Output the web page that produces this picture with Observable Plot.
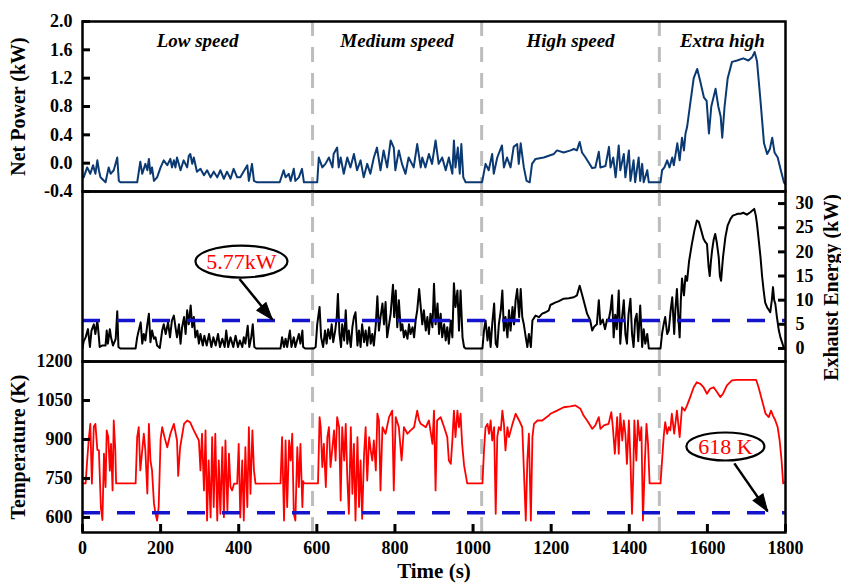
<!DOCTYPE html>
<html><head><meta charset="utf-8">
<script src="https://cdn.jsdelivr.net/npm/d3@7"></script>
<script src="https://cdn.jsdelivr.net/npm/@observablehq/plot@0.6"></script>
<style>
body{margin:0;background:#fff}
#chart{position:relative;width:841px;height:586px;background:#fff}
#chart svg{position:absolute;left:0;overflow:visible;background:transparent}
</style>
</head><body><div id="chart"></div>
<script>
// ---------- data ----------
const phaseNames = ["Low speed", "Medium speed", "High speed", "Extra high"];
const phaseStarts = [0, 589, 1022, 1477];
const phaseEnds = [589, 1022, 1477, 1800];
const phaseBounds = [589, 1022, 1477];
const xTicks = [0, 200, 400, 600, 800, 1000, 1200, 1400, 1600, 1800];
const powerTicks = [-0.4, 0, 0.4, 0.8, 1.2, 1.6, 2.0];
const exhaustTicks = [0, 5, 10, 15, 20, 25, 30];
const tempTicks = [600, 750, 900, 1050, 1200];
const exhaustMean = 5.77;
const tempMin = 618;

const exhaustNote = {label: "5.77kW", x: 407, y: 18, x1: 402, y1: 14.4, x2: 486, y2: 6.0};
const tempNote = {label: "618 K", x: 1646, y: 873, x1: 1669, y1: 808, x2: 1754, y2: 624};

const netPower = [
[0,-0.2],[3,-0.2],[12,-0.06],[20,-0.15],[27,-0.03],[33,-0.15],[38,0.04],[42,-0.1],[46,-0.2],[59,-0.27],[67,-0.06],[72,-0.15],[80,-0.1],[89,0.08],[93,-0.25],[97,-0.27],[140,-0.27],[148,0.02],[153,-0.15],[161,-0.01],[166,-0.1],[170,0.06],[174,-0.15],[178,-0.06],[183,-0.25],[191,-0.2],[200,-0.06],[208,0.04],[217,-0.03],[225,0.06],[229,-0.06],[234,0.04],[238,-0.06],[242,0.08],[251,-0.1],[259,0.04],[268,-0.06],[272,0.1],[276,0.13],[281,-0.01],[285,0.08],[293,-0.12],[302,-0.08],[311,-0.17],[319,-0.1],[328,-0.2],[336,-0.12],[345,-0.2],[353,-0.1],[362,-0.22],[370,-0.12],[379,-0.22],[387,-0.08],[396,-0.2],[404,-0.2],[422,-0.03],[426,-0.25],[434,-0.01],[439,-0.25],[447,-0.27],[505,-0.27],[515,-0.1],[520,-0.2],[528,-0.15],[533,-0.25],[541,-0.08],[545,-0.25],[554,-0.2],[562,-0.08],[567,-0.27],[601,-0.27],
[605,0.08],[614,-0.06],[622,-0.01],[631,0.08],[640,-0.06],[643,0.13],[652,0.22],[656,-0.06],[661,0.08],[669,-0.15],[678,0.08],[686,-0.06],[695,0.13],[703,-0.1],[712,0.04],[720,-0.2],[729,-0.01],[737,-0.15],[746,0.08],[754,0.22],[763,-0.1],[771,0.18],[780,-0.06],[789,0.32],[797,0.22],[801,-0.1],[810,0.18],[818,-0.01],[827,-0.15],[835,0.08],[848,-0.06],[857,0.27],[866,-0.06],[870,0.08],[878,-0.06],[887,0.13],[895,-0.01],[904,0.32],[912,-0.01],[921,0.08],[930,-0.1],[938,0.08],[947,-0.15],[951,0.32],[955,-0.06],[961,0.22],[966,-0.15],[970,0.27],[975,-0.2],[981,-0.27],[1023,-0.27],
[1032,-0.01],[1040,-0.1],[1049,0.13],[1053,-0.15],[1062,0.08],[1074,0.25],[1079,-0.06],[1087,0.08],[1096,-0.06],[1104,0.23],[1113,0.27],[1117,-0.01],[1122,0.28],[1130,-0.06],[1137,-0.25],[1145,-0.27],[1151,-0.01],[1160,0.06],[1181,0.08],[1207,0.13],[1215,0.18],[1232,0.15],[1250,0.18],[1258,0.2],[1266,0.18],[1273,0.3],[1279,0.15],[1288,0.08],[1296,0.01],[1305,-0.07],[1313,-0.06],[1322,0.16],[1326,-0.06],[1339,-0.04],[1348,0.23],[1352,-0.06],[1359,0.08],[1365,-0.2],[1373,0.25],[1377,-0.1],[1386,0.13],[1390,-0.2],[1399,0.18],[1403,-0.25],[1411,0.04],[1415,-0.27],[1424,0.08],[1428,-0.25],[1433,-0.01],[1437,-0.27],[1446,-0.1],[1450,-0.27],[1480,-0.27],
[1484,-0.1],[1490,-0.06],[1497,0.04],[1503,-0.06],[1510,0.08],[1514,-0.03],[1523,0.28],[1529,0.04],[1535,0.36],[1540,0.18],[1544,0.42],[1548,0.51],[1557,0.88],[1565,1.2],[1574,1.33],[1582,1.15],[1591,0.93],[1598,0.88],[1604,0.42],[1610,0.8],[1621,1.05],[1628,0.8],[1634,0.66],[1638,0.36],[1644,0.8],[1652,1.2],[1663,1.43],[1676,1.45],[1692,1.48],[1705,1.45],[1715,1.5],[1721,1.57],[1727,1.44],[1736,0.88],[1745,0.28],[1753,0.13],[1760,0.2],[1766,0.36],[1772,0.15],[1780,0.08],[1788,-0.1],[1796,-0.27],[1800,-0.3]
];

const exhaustEnergy = [
[0,0],[3,1.5],[8,2.3],[14,4.0],[19,0.3],[23,3.7],[29,5.0],[33,3.0],[38,5.8],[42,2.3],[44,0.3],[50,0.6],[59,0.6],[62,3.7],[65,1.0],[70,4.0],[73,2.3],[78,0.6],[85,2.0],[89,7.7],[92,0.3],[97,0],[136,0],[140,2.3],[144,3.7],[149,5.4],[153,1.0],[157,3.0],[161,1.65],[166,5.0],[170,7.2],[174,1.3],[178,3.7],[183,2.0],[187,2.3],[191,0.6],[198,0.1],[204,3.7],[208,5.0],[213,3.0],[219,5.4],[224,2.3],[229,5.8],[234,6.8],[238,4.4],[242,2.3],[247,5.0],[251,1.0],[255,4.4],[260,6.5],[264,3.0],[268,7.9],[272,5.0],[277,8.9],[281,4.4],[285,6.5],[289,2.3],[294,3.7],[298,1.0],[302,3.0],[308,0.6],[312,2.65],[318,0.6],[324,3.0],[330,0.3],[335,2.3],[341,0.6],[347,3.0],[352,0.3],[358,2.0],[364,0.3],[368,3.7],[373,0.3],[379,2.3],[386,0.3],[392,2.65],[398,0.3],[403,1.65],[409,0.3],[413,2.3],[417,1.0],[423,4.7],[427,0.3],[432,2.3],[436,5.0],[440,0.3],[445,0],[507,0],[511,2.3],[516,0.3],[520,2.0],[524,0.3],[531,3.7],[535,0.3],[541,2.3],[545,0.3],[554,3.0],[558,1.0],[563,3.7],[565,0.3],[570,0],[592,0],
[597,0.3],[601,5.0],[607,8.6],[611,2.3],[616,0.3],[621,3.7],[625,1.0],[629,4.0],[634,2.0],[638,5.0],[642,1.3],[647,3.7],[651,6.5],[654,11.3],[658,3.0],[662,0.3],[665,5.0],[670,1.65],[674,7.9],[678,1.0],[682,3.7],[687,0.3],[691,4.4],[695,6.5],[699,7.5],[704,0.6],[708,3.7],[712,0.3],[716,5.0],[721,1.3],[725,3.7],[729,0.6],[734,4.4],[738,1.0],[742,3.0],[746,0.6],[751,5.0],[755,10.8],[759,3.7],[763,6.5],[768,9.3],[772,5.0],[776,9.6],[780,2.3],[785,5.0],[789,7.2],[795,13.2],[798,6.5],[802,12.0],[806,4.4],[810,10.0],[815,3.7],[819,5.0],[823,2.3],[827,3.7],[832,2.0],[836,5.0],[840,3.0],[845,4.4],[849,2.3],[853,5.8],[857,7.9],[862,12.3],[866,8.6],[870,5.0],[874,7.9],[879,3.7],[883,6.5],[887,3.0],[891,7.2],[896,4.4],[900,13.4],[904,5.0],[909,9.3],[913,3.0],[917,7.2],[921,2.3],[926,5.0],[930,1.65],[934,4.4],[938,1.0],[943,5.8],[947,2.3],[951,13.5],[955,8.6],[960,12.0],[964,3.7],[968,12.0],[973,2.3],[977,0.3],[981,0],[1024,0],
[1028,3.7],[1032,5.8],[1037,1.65],[1041,4.4],[1045,0.3],[1049,5.0],[1054,9.3],[1058,1.0],[1062,0.3],[1066,5.0],[1071,7.9],[1075,12.0],[1079,3.7],[1083,6.5],[1088,2.3],[1092,7.9],[1096,3.7],[1101,8.6],[1105,5.0],[1109,10.0],[1113,12.3],[1118,6.5],[1122,12.3],[1126,6.5],[1130,5.0],[1135,2.3],[1139,0.3],[1143,3.0],[1148,0.3],[1152,5.8],[1160,6.8],[1169,6.5],[1177,7.2],[1186,7.5],[1194,7.9],
[1198,9.0],[1210,9.5],[1220,9.8],[1232,10.3],[1245,10.4],[1258,10.6],[1266,11],[1273,13],[1278,11.5],[1283,10],[1292,7.2],[1300,5.8],[1305,3.7],[1310,4.5],[1317,5.0],[1322,10],[1326,5],[1332,6],[1338,4],[1343,6],[1347,5.8],[1352,8],[1356,11],[1360,2.3],[1364,7],[1368,4],[1373,12],[1377,1],[1381,6],[1386,10],[1390,3],[1394,1],[1398,7],[1403,10.3],[1407,3],[1411,0.3],[1415,6],[1419,7.2],[1423,1.5],[1428,8.9],[1433,0.3],[1437,4],[1441,1],[1446,3],[1450,0],[1480,0],
[1484,3.1],[1488,5],[1492,6.5],[1497,3],[1501,3.7],[1506,8],[1510,10.6],[1515,3],[1518,8],[1522,12.3],[1526,6],[1529,2.3],[1532,10],[1535,14.5],[1540,11],[1544,15],[1548,14],[1553,18],[1560,21.5],[1567,24.5],[1573,26.5],[1578,26.2],[1584,24.5],[1590,22.7],[1595,22],[1599,21.6],[1603,17],[1606,15],[1609,18],[1612,20.3],[1616,22.5],[1620,23.7],[1624,22],[1629,18.9],[1632,15],[1635,14],[1638,17],[1640,18.9],[1646,23],[1652,25.5],[1659,26.8],[1665,27.5],[1672,27.7],[1678,27.9],[1685,27.9],[1692,28.1],[1701,27.7],[1710,28.2],[1716,28.6],[1720,28.9],[1724,27.5],[1727,25.8],[1732,22],[1736,18.9],[1740,15],[1744,12],[1748,9.5],[1753,8.5],[1757,8],[1761,7.5],[1765,10],[1768,12.7],[1771,10],[1774,9.2],[1778,6.5],[1783,3.7],[1787,2.3],[1791,1.3],[1795,0.3],[1800,0]
];

const temperature = [
[0,731],[8,731],[12,820],[16,900],[20,960],[24,730],[29,950],[33,960],[38,860],[42,858],[47,640],[51,590],[55,845],[59,717],[62,935],[66,909],[70,780],[73,883],[77,704],[80,973],[84,858],[86,731],[136,731],[140,909],[144,947],[148,781],[157,922],[161,858],[166,692],[170,960],[174,819],[178,781],[183,653],[187,614],[191,588],[195,640],[200,900],[204,947],[210,909],[217,870],[225,922],[234,960],[242,896],[245,760],[250,870],[260,960],[268,973],[276,965],[285,935],[298,896],[302,781],[306,922],[311,704],[315,935],[319,588],[323,819],[328,600],[332,909],[336,640],[340,922],[345,588],[349,819],[353,614],[358,870],[362,601],[366,896],[371,627],[375,845],[379,717],[383,704],[388,730],[396,730],[400,883],[404,600],[409,819],[413,588],[417,870],[422,640],[426,947],[430,691],[435,935],[439,781],[443,730],[507,731],[511,909],[516,588],[520,896],[524,640],[529,896],[533,819],[537,922],[541,614],[545,588],[550,870],[554,717],[558,883],[563,640],[565,740],[567,731],[592,731],
[597,731],[603,731],[607,986],[610,947],[614,794],[618,883],[623,717],[627,909],[631,947],[635,794],[640,870],[644,935],[648,819],[652,986],[657,947],[661,665],[665,947],[670,819],[674,960],[678,755],[682,614],[687,947],[691,691],[695,883],[699,588],[704,909],[708,640],[712,819],[716,595],[721,845],[725,947],[729,742],[734,909],[738,858],[742,819],[746,896],[751,781],[755,999],[759,973],[763,704],[768,947],[776,922],[785,986],[793,1011],[797,704],[802,986],[810,947],[817,819],[823,947],[832,922],[840,935],[849,947],[857,1011],[862,973],[866,960],[879,947],[887,973],[896,883],[900,1011],[904,704],[908,973],[917,986],[926,947],[934,909],[938,819],[943,806],[947,896],[951,1011],[955,909],[960,1011],[964,947],[968,999],[972,883],[977,800],[985,731],[1024,731],
[1028,858],[1032,947],[1037,960],[1041,922],[1045,973],[1049,896],[1054,947],[1058,614],[1062,909],[1066,947],[1071,935],[1075,1011],[1079,960],[1083,858],[1088,947],[1092,909],[1101,960],[1109,999],[1118,973],[1126,947],[1135,588],[1139,819],[1143,922],[1148,588],[1152,909],[1156,960],[1165,973],[1177,973],[1194,992],
[1198,999],[1215,1011],[1232,1024],[1249,1027],[1262,1031],[1275,1018],[1283,992],[1292,973],[1300,954],[1305,941],[1313,954],[1322,986],[1326,941],[1335,954],[1347,960],[1354,1005],[1358,947],[1363,845],[1369,986],[1373,845],[1377,999],[1382,896],[1386,973],[1390,922],[1394,806],[1399,973],[1403,819],[1407,614],[1410,755],[1413,973],[1418,819],[1422,973],[1427,896],[1431,947],[1435,588],[1440,819],[1444,960],[1448,883],[1452,731],[1480,731],
[1484,819],[1488,909],[1492,967],[1497,922],[1501,947],[1505,935],[1509,999],[1515,922],[1522,1011],[1529,909],[1535,1024],[1542,1011],[1548,1031],[1556,1063],[1565,1101],[1573,1120],[1582,1114],[1590,1101],[1599,1076],[1607,1095],[1616,1101],[1625,1082],[1633,1063],[1640,1076],[1650,1108],[1663,1127],[1676,1129],[1710,1129],[1725,1129],[1731,1101],[1740,1050],[1749,999],[1757,986],[1763,1011],[1768,992],[1774,973],[1780,947],[1785,896],[1790,819],[1794,731],[1797,735]
];

// ---------- style ----------
const FONT = "'Liberation Serif', 'Times New Roman', serif";
const W = 841, ML = 82, MR = 56;
const NAVY = "#0b3a73", RED = "#ff0000", BLUE = "#1414cc", GRAY = "#bdbdbd";
const baseStyle = {fontFamily: FONT, fontWeight: "bold", fontSize: "18px", overflow: "visible", background: "transparent", color: "black"};

function ellipseSymbol(rx, ry) {
  const k = 0.5523;
  return {draw(ctx) {
    ctx.moveTo(rx, 0);
    ctx.bezierCurveTo(rx, ry * k, rx * k, ry, 0, ry);
    ctx.bezierCurveTo(-rx * k, ry, -rx, ry * k, -rx, 0);
    ctx.bezierCurveTo(-rx, -ry * k, -rx * k, -ry, 0, -ry);
    ctx.bezierCurveTo(rx * k, -ry, rx, -ry * k, rx, 0);
    ctx.closePath();
  }};
}
// solid arrow head: tip at the origin, pointing up (rotated by the dot's rotate option)
const headSymbol = {draw(ctx) { ctx.moveTo(0, 0); ctx.lineTo(-6, 17); ctx.lineTo(6, 17); ctx.closePath(); }};

const yAxis = (ticks, anchor, fmt) => Plot.axisY(ticks, {anchor, tickSize: -8, tickPadding: 18, strokeWidth: 3, tickFormat: fmt, label: null, fontSize: 18, fontWeight: "bold", fontFamily: FONT});
const phaseRule = () => Plot.ruleX(phaseBounds, {stroke: GRAY, strokeWidth: 3, strokeDasharray: "15,11"});
const frame = () => Plot.frame({stroke: "black", strokeWidth: 2.5});
const title = (t, opts) => Plot.text([t], {textAnchor: "middle", fontSize: 20, fontWeight: "bold", fontFamily: FONT, ...opts});
const note = (n, rx, ry, headRotate) => [
  Plot.link([n], {x1: "x1", y1: "y1", x2: "x2", y2: "y2", stroke: "black", strokeWidth: 2.5}),
  Plot.dot([n], {x: "x2", y: "y2", r: 10, symbol: headSymbol, rotate: headRotate, fill: "black", stroke: "black", strokeWidth: 1}),
  Plot.dot([n], {x: "x", y: "y", r: 10, symbol: ellipseSymbol(rx, ry), fill: "white", stroke: "black", strokeWidth: 2.2}),
  Plot.text([n], {x: "x", y: "y", text: "label", fill: RED, fontSize: 22, fontWeight: "normal", fontFamily: FONT})
];

// ---------- top: net power ----------
const p1 = Plot.plot({
  width: W, height: 191, marginLeft: ML, marginRight: MR, marginTop: 21, marginBottom: 0,
  style: baseStyle,
  x: {domain: [0, 1800], axis: null},
  y: {domain: [-0.4, 2.0], axis: null},
  marks: [
    phaseRule(),
    Plot.line(netPower, {x: d => d[0], y: d => d[1], stroke: NAVY, strokeWidth: 2, clip: true}),
    Plot.text(phaseNames, {x: (d, i) => (phaseStarts[i] + phaseEnds[i]) / 2, y: 1.73, text: d => d, fontStyle: "italic", fontWeight: "bold", fontSize: 19, fontFamily: FONT}),
    yAxis(powerTicks, "left", d => d.toFixed(1)),
    title("Net Power (kW)", {frameAnchor: "left", dx: -64, rotate: -90}),
    frame()
  ]
});

// ---------- middle: exhaust energy ----------
const p2 = Plot.plot({
  width: W, height: 170, marginLeft: ML, marginRight: MR, marginTop: 0, marginBottom: 0,
  style: baseStyle,
  x: {domain: [0, 1800], axis: null},
  y: {domain: [-2.7, 32.5], axis: null},
  marks: [
    phaseRule(),
    Plot.line(exhaustEnergy, {x: d => d[0], y: d => d[1], stroke: "black", strokeWidth: 2, clip: true}),
    Plot.ruleY([exhaustMean], {stroke: BLUE, strokeWidth: 3.5, strokeDasharray: "18,17"}),
    ...note(exhaustNote, 46, 16, 140),
    yAxis(exhaustTicks, "right", d => String(d)),
    title("Exhaust Energy (kW)", {frameAnchor: "right", dx: 46, dy: 11, rotate: -90}),
    frame()
  ]
});

// ---------- bottom: temperature ----------
const p3 = Plot.plot({
  width: W, height: 225, marginLeft: ML, marginRight: MR, marginTop: 0, marginBottom: 54,
  style: baseStyle,
  x: {domain: [0, 1800], axis: null},
  y: {domain: [542, 1200], axis: null},
  marks: [
    phaseRule(),
    Plot.line(temperature, {x: d => d[0], y: d => d[1], stroke: RED, strokeWidth: 1.8, clip: true}),
    Plot.ruleY([tempMin], {stroke: BLUE, strokeWidth: 3.5, strokeDasharray: "18,17"}),
    ...note(tempNote, 39, 14, 146),
    yAxis(tempTicks, "left", d => String(d)),
    Plot.axisX(xTicks, {anchor: "bottom", tickSize: -8, tickPadding: 17, strokeWidth: 3, tickFormat: d => String(d), label: null, fontSize: 18, fontWeight: "bold", fontFamily: FONT}),
    title("Temperature (K)", {frameAnchor: "left", dx: -64, rotate: -90}),
    title("Time (s)", {frameAnchor: "bottom", dy: 45, fontSize: 21}),
    frame()
  ]
});

const chart = document.getElementById("chart");
[[p1, 0], [p2, 191], [p3, 361]].forEach(([svg, top]) => {
  svg.style.top = top + "px";
  chart.appendChild(svg);
});
</script>
</body></html>
